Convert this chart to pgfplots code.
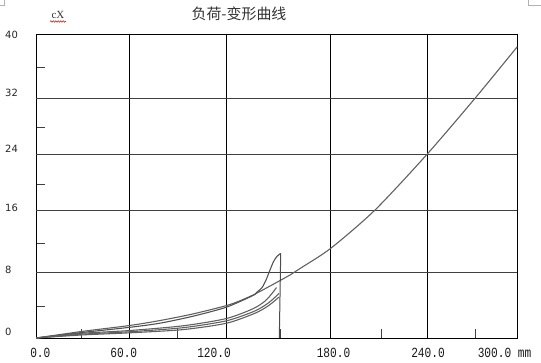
\documentclass[border=0pt]{standalone}
\usepackage{pgfplots}
\pgfplotsset{compat=1.18}
\usepackage{fontspec}
\setmainfont{DejaVu Sans}
\newfontfamily\cjk{Noto Sans CJK SC}
\newfontfamily\xmono[FakeStretch=0.8]{Liberation Mono}
\newfontfamily\cxfont{Liberation Serif}
\usetikzlibrary{decorations.pathmorphing}

\pgfplotstableread{
x y
0 0
28.05 0.86
57.27 1.64
76.11 2.30
96.00 3.15
116.62 4.25
125.22 4.90
135.47 5.90
155.91 8.29
162.04 9.14
180.89 11.80
208.08 16.84
240.00 24.17
269.46 31.54
295.42 38.33
}\curveA

\pgfplotstableread{
x y
0 0
28.05 0.72
57.27 1.40
76.11 1.95
96.00 2.85
116.62 4.04
133.19 5.59
135.04 5.92
138.72 6.64
141.17 7.63
143.63 8.95
145.66 10.00
147.74 10.70
150.20 11.14
}\curveB

\pgfplotstableread{
x y
150.20 11.14
149.34 0
}\drop

\pgfplotstableread{
x y
0 0
28.05 0.62
57.27 0.98
90.00 1.60
116.62 2.55
133.19 3.85
140.56 4.85
144.24 5.70
147.62 6.64
}\curveD

\pgfplotstableread{
x y
0 0
28.05 0.50
57.27 0.82
90.00 1.35
116.62 2.25
133.19 3.45
140.56 4.30
144.85 5.00
149.15 5.86
}\curveE

\pgfplotstableread{
x y
0 0
28.05 0.40
57.27 0.68
90.00 1.10
116.62 1.93
133.19 3.15
140.56 3.95
144.85 4.60
149.15 5.39
}\curveF

\begin{document}
\begin{tikzpicture}[x=1bp,y=1bp]
\useasboundingbox (0,0) rectangle (541,362);
\begin{axis}[
  at={(36bp,24bp)}, anchor=south west,
  scale only axis, width=481.3bp, height=304bp,
  xmin=0, xmax=295.42, ymin=0, ymax=40,
  axis line style={black, line width=0.9bp},
  tick pos=left,
  xtick={2.64,53.89,109.26,182.6,240.6,287.6},
  xticklabels={0.0,60.0,120.0,180.0,240.0,300.0 mm},
  ytick={0.39,8.51,16.62,24.38,31.84,39.37},
  yticklabels={0,8,16,24,32,40},
  major tick length=0pt,
  minor xtick={28.05,86.73,150.20,211.76,269.46},
  minor ytick={4.12,12.46,20.26,27.72,35.57},
  minor tick length=9bp,
  minor tick style={black!75, line width=0.9bp},
  extra x ticks={57.27,116.62,180.89,240.0},
  extra x tick labels={},
  extra x tick style={grid=major, major tick length=0pt, major grid style={black, line width=0.8bp}},
  extra y ticks={8.64,16.84,24.14,31.54},
  extra y tick labels={},
  extra y tick style={grid=major, major tick length=0pt, major grid style={black!75, line width=0.8bp}},
  xticklabel style={font=\xmono\fontsize{14}{14}\selectfont, anchor=base, yshift=-19bp, text=black!90},
  yticklabel style={font=\fontsize{10}{10}\selectfont, anchor=base west, inner sep=0pt, xshift=-31bp, text=black!85},
]
\addplot[black!62, line width=1.1bp, smooth, tension=0.45] table {\curveA};
\addplot[black!68, line width=1.1bp, smooth, tension=0.45] table {\curveB};
\addplot[black!70, line width=1bp] table {\drop};
\addplot[black!62, line width=1.1bp, smooth, tension=0.45] table {\curveD};
\addplot[black!62, line width=1.1bp, smooth, tension=0.45] table {\curveE};
\addplot[black!62, line width=1.1bp, smooth, tension=0.45] table {\curveF};
\end{axis}
\node[font=\cjk\fontsize{15}{15}\selectfont, text=black!80] at (239,348) {负荷-变形曲线};
\node[font=\cxfont\fontsize{11}{11}\selectfont, text=black!80] at (58,347) {cX};
\draw[red!80!black, line width=0.5bp, decorate, decoration={snake, amplitude=0.7bp, segment length=2.5bp}] (50,340.5) -- (66,340.5);
\draw[black!30, line width=0.5bp] (528,362) -- (528,357) -- (541,357);
\draw[black!30, line width=0.5bp] (4,362) -- (4,357) -- (0,357);
\end{tikzpicture}
\end{document}
